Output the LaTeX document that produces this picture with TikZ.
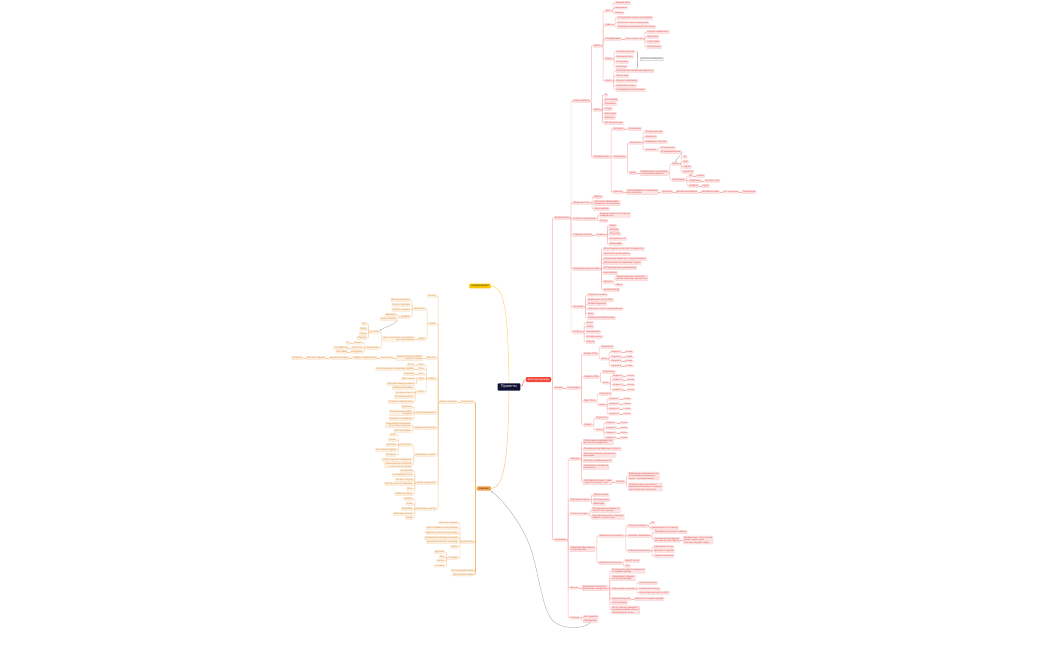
\documentclass[tikz,border=0pt]{standalone}
\usepackage{fontspec}
\setmainfont{Noto Sans}
\usetikzlibrary{positioning,arrows.meta,decorations.pathreplacing}

\definecolor{rfill}{HTML}{FDE4E4}
\definecolor{rdraw}{HTML}{F9C4C4}
\definecolor{rline}{HTML}{F7B3B3}
\definecolor{rtext}{HTML}{E04B45}
\definecolor{lfill}{HTML}{FDF1E3}
\definecolor{ldraw}{HTML}{F8D9B6}
\definecolor{lline}{HTML}{F6CC9C}
\definecolor{ltrunk}{HTML}{F7B774}
\definecolor{ltext}{HTML}{D98A3A}
\definecolor{navy}{HTML}{101433}
\definecolor{mred}{HTML}{F04A3E}
\definecolor{myel}{HTML}{F7C600}
\definecolor{ycurve}{HTML}{F8DA6A}
\definecolor{morange}{HTML}{F5A04A}
\definecolor{ocurve}{HTML}{F8C794}

\newcommand{\leaffont}{\fontsize{2.1}{2.5}\selectfont}
\newcommand{\rootfont}{\fontsize{2.45}{3}\selectfont}

\tikzset{
  leaf/.style={rounded corners=0.6pt, line width=0.15pt, inner xsep=0.8pt, inner ysep=0.5pt, font=\leaffont, align=left},
  rbox/.style={leaf, fill=rfill, draw=rdraw, text=rtext},
  lbox/.style={leaf, fill=lfill, draw=ldraw, text=ltext, align=right},
  rlink/.style={draw=rline, line width=0.45pt, rounded corners=1pt},
  llink/.style={draw=lline, line width=0.45pt, rounded corners=1pt},
  rootbox/.style={rounded corners=0.8pt, font=\rootfont, inner xsep=2pt, inner ysep=1.3pt},
  centerbox/.style={rootbox, fill=navy, text=white, font=\fontsize{3.8}{4.4}\selectfont, inner xsep=3.2pt, inner ysep=1.8pt},
  relation/.style={draw=gray!70, line width=0.35pt, -{Stealth[length=1.8pt,width=1.5pt]}},
  notebox/.style={leaf, fill=white, draw=gray!80, line width=0.25pt, text=black!70},
  bracebar/.style={draw=gray!80, line width=0.3pt, decorate, decoration={brace, amplitude=1.5pt}},
}

% children to the right / left of a parent, at given heights
\newcommand{\rkids}[3][]{%
  \foreach \yy/\lbl [count=\i] in {#3}{%
    \node[rbox, anchor=west, xshift=3pt] (#2-\i) at (#2.east |- 0,\yy) {\lbl};
    \draw[rlink,#1] (#2.east) -- ++(1.4,0) |- (#2-\i.west);
  }}
\newcommand{\lkids}[3][]{%
  \foreach \yy/\lbl [count=\i] in {#3}{%
    \node[lbox, anchor=east, xshift=-3pt] (#2-\i) at (#2.west |- 0,\yy) {\lbl};
    \draw[llink,#1] (#2.west) -- ++(-1.4,0) |- (#2-\i.east);
  }}
% one child on the same line
\newcommand{\rnext}[3][rlink]{\node[rbox, right=3pt of #2] (#2-1) {#3}; \draw[#1] (#2) -- (#2-1);}
\newcommand{\lnext}[3][llink]{\node[lbox, left=3pt of #2] (#2-1) {#3}; \draw[#1] (#2) -- (#2-1);}

\begin{document}
\begin{tikzpicture}[x=1pt, y=-1pt]
  \fill[white] (0,0) rectangle (1050,650);
  \useasboundingbox (0,0) rectangle (1050,650);

  % roots
  \node[centerbox] (proj) at (509,387) {Проекты};
  \node[rootbox, fill=mred, text=white] (mine) at (538.5,379.5) {Мой личный мир};
  \node[rootbox, fill=myel, text=black!85] (self) at (480,286) {Саморазвитие};
  \node[rootbox, fill=morange, text=black!85] (hobby) at (484,488.5) {Занятия};

  \draw[draw=mred!70, line width=0.6pt] (proj.east) .. controls (524,386) and (522,379.5) .. (mine.west);
  \draw[draw=ycurve, line width=0.5pt] (proj.north) .. controls (508,320) and (506,286) .. (self.east);
  \draw[draw=ocurve, line width=0.5pt] (proj.south) .. controls (508,460) and (504,488.5) .. (hobby.east);

  % ---------- right tree ----------
  \rkids[line width=0.6pt]{mine}{218/Направления, 388/Личное, 540/Увлечения}

  \rkids{mine-1}{101/Учеба и работа, 203/Общение и сеть, 219/Записи и публикации, 235/Структура знаний, 269/Интересные темы и идеи, 307/Полезное, 332/Ресурсы}

  \rkids{mine-1-1}{46/Работа, 110/Хобби, 157/Самообучение}
  \rkids{mine-1-1-1}{11/Цели, 25/Задачи, 39/Планирование, 59/Языки, 81/Книги}
  \rkids{mine-1-1-1-1}{3/Текущие цели, 8/Ежедневно, 13/Неделя}
  \rkids{mine-1-1-1-2}{18/Распределить задачи по неделям, 23/Составить список важных дел, 27/Проверить выполнение всех планов}
  \rnext{mine-1-1-1-3}{План на весь год}
  \rkids{mine-1-1-1-3-1}{32/Изучить новый язык, 37/Прочитать, 42/Спорт дома, 47/Путешествия}
  \rkids{mine-1-1-1-4}{52/Английский язык, 57/Немецкий язык, 62/Испанский, 67/Японский}
  \coordinate (bt) at ([xshift=1.5pt]mine-1-1-1-4-1.north east);
  \coordinate (bb) at (bt |- mine-1-1-1-4-4.south);
  \draw[bracebar] (bt) -- (bb);
  \node[notebox, anchor=west, xshift=3.5pt] (langnote) at (bt |- mine-1-1-1-4) {Практика ежедневно};
  \rkids{mine-1-1-1-5}{71/Классическая литература прошлого, 76/Фантастика, 81/Научно-популярные, 86/Психология и мозг, 90/Саморазвитие и мотивация}
  \rkids{mine-1-1-2}{95/Го, 100/Фотография, 104/Рисование, 109/Гитара, 114/Кулинария, 118/Шахматы, 123/Настольные игры}

  \rkids{mine-1-1-3}{129/Интересы, 157/Творчество, 192/Проекты}
  \rnext{mine-1-1-3-1}{Астрономия}
  \rkids{mine-1-1-3-2}{143/Рисование, 173/Курсы}
  \rkids{mine-1-1-3-2-1}{132/Основы рисунка, 137/Живопись, 142/Цифровое искусство, 150/Анимация}
  \rkids{mine-1-1-3-2-1-4}{148/2D анимация, 152/3D моделирование}
  \rnext{mine-1-1-3-2-2}{Онлайн-курсы по дизайну\\и программированию}
  \rkids{mine-1-1-3-2-2-1}{164/Языки, 180/Программы}
  \rkids{mine-1-1-3-2-2-1-1}{157/Go, 162/Rust, 167/Python, 172/JavaScript}
  \rkids{mine-1-1-3-2-2-1-2}{176/Git, 181/Редакторы, 186/Графика}
  \rnext{mine-1-1-3-2-2-1-2-1}{GitHub}
  \rnext{mine-1-1-3-2-2-1-2-2}{VS Code и Vim}
  \rnext{mine-1-1-3-2-2-1-2-3}{Figma}
  \draw[relation] (mine-1-1-3-2-1-4-2.east) .. controls +(4,0) and +(0,-4) .. (mine-1-1-3-2-2-1-1.north);
  \rnext{mine-1-1-3-3}{Сайт-портфолио с описанием\\всех проектов}
  \rnext{mine-1-1-3-3-1}{Прототип}
  \rnext{mine-1-1-3-3-1-1}{Дизайн интерфейса}
  \rnext{mine-1-1-3-3-1-1-1}{Разработка кода}
  \rnext{mine-1-1-3-3-1-1-1-1}{Тест и отладка}
  \rnext{mine-1-1-3-3-1-1-1-1-1}{Публикация}

  \rkids{mine-1-2}{197/Друзья, 203/{Участие в сообществах\\и форумах по интересам}, 209/Мероприятия}
  \rkids{mine-1-3}{215/{Ведение заметок и дневника\\каждый день}, 221/Статьи}
  \rnext{mine-1-4}{Разделы}
  \rkids{mine-1-4-1}{226/Наука, 230/История, 234/Искусство, 239/Технологии и IT, 244/Философия}
  \rkids{mine-1-5}{249/Искусственный интеллект и нейросети, 254/Экология и устойчивость, 259/Психология привычек и продуктивности, 263/Космические исследования и наука, 268/История древних цивилизаций, 273/Архитектура, 282/Музыка, 290/Кинематограф}
  \rkids{mine-1-5-7}{278/{Теория музыки и гармонии\\для начинающих музыкантов}, 285/Джаз}
  \rkids{mine-1-6}{295/Подкасты по теме, 300/Видеокурсы на YouTube, 304/Онлайн-журналы, 309/Полезные статьи и исследования, 314/Вики, 318/Электронные библиотеки}
  \rkids{mine-1-7}{323/Книги, 327/Сайты, 332/Приложения, 337/Онлайн-школы, 342/Прочее}

  \rnext{mine-2}{Распорядок}
  \rkids{mine-2-1}{354/Январь 2024, 377/Февраль 2024, 401/Март 2024, 425/Апрель}
  \rkids{mine-2-1-1}{347/Результаты, 359/Цели}
  \rkids{mine-2-1-2}{372/Результаты, 383/Цели}
  \rkids{mine-2-1-3}{394/Результаты, 405/Цели}
  \rkids{mine-2-1-4}{418/Результаты, 430/Цели}
  \rkids{mine-2-1-1-2}{352/Неделя 1, 357/Неделя 2, 361/Неделя 3, 366/Неделя 4}
  \rkids{mine-2-1-2-2}{376/Неделя 1, 380/Неделя 2, 385/Неделя 3, 390/Неделя 4}
  \rkids{mine-2-1-3-2}{399/Неделя 1, 404/Неделя 2, 409/Неделя 3, 414/Неделя 4}
  \rkids{mine-2-1-4-2}{423/Неделя 1, 428/Неделя 2, 433/Неделя 3, 438/Неделя 4}
  \foreach \b in {1,...,4}{
    \foreach \w in {1,...,4}{
      \rnext{mine-2-1-\b-2-\w}{готово}
    }
  }

  \rkids{mine-3}{459/Карьера, 500/Обучение и курсы, 514/Поездки и отдых, 549/{Здоровый образ жизни\\и самочувствие}, 588/Деньги, 618/Расходы}
  \rkids{mine-3-1}{442/{Поиск новых возможностей\\для роста в профессии}, 449/Повышение квалификации и опыта, 455/{Развитие навыков управления\\командой}, 461/Участие в конференциях IT, 467/{Нетворкинг и полезные\\знакомства}, 482/{Собственный проект: идея\\стартапа и бизнес-план}}
  \rnext{mine-3-1-6}{Стартап}
  \rkids{mine-3-1-6-1}{476/{Мобильное приложение для\\планирования времени и\\задач с напоминаниями}, 487/{Онлайн-сервис для поиска\\единомышленников и команды\\для совместных проектов}}
  \rkids{mine-3-2}{495/Курсы онлайн, 500/Мастер-классы, 504/Вебинары}
  \rkids{mine-3-3}{510/{Планирование поездок по\\России и за границу}, 517/{Путешествие мечты: маршрут\\бюджет и список мест}}
  \rkids{mine-3-4}{536/Физическая активность, 563/Правильное питание}
  \rkids{mine-3-4-1}{526/Утренняя зарядка, 536/Силовые тренировки, 551/Плавание в бассейне}
  \rkids{mine-3-4-1-1}{523/Да, 528/Каждый день по 15 минут}
  \rkids{mine-3-4-1-2}{532/Тренировки три раза в неделю, 540/{Программа тренировок\\на каждый день недели}}
  \rnext{mine-3-4-1-2-2}{Понедельник: ноги и спина\\Среда: грудь и руки\\Пятница: кардио и пресс}
  \rkids{mine-3-4-1-3}{547/Абонемент на год, 551/Два раза в неделю, 556/Техника плавания}
  \rkids{mine-3-4-2}{561/Вода 2 литра, 566/Сон}
  \rnext{mine-3-5}{Управление личными\\финансами и бюджетом}
  \rkids{mine-3-5-1}{571/{Откладывать десять процентов\\от каждого дохода}, 578/{Финансовая подушка\\на полгода вперед}, 589/Инвестиции и вклады, 599/Крупные покупки, 603/Учет расходов, 610/{Вести таблицу доходов и\\расходов каждый месяц и\\анализировать траты}}
  \rkids{mine-3-5-1-3}{583/Акции компаний, 589/Банковские вклады, 593/Накопительные счета и ИИС}
  \rnext{mine-3-5-1-4}{Накопить на новый ноутбук}
  \rkids{mine-3-6}{617/Без кредитов, 621/Сбережения}

  \draw[relation] (mine-3-6-2.south) .. controls (584,629) and (563,630) .. (553,621)
    .. controls (543,610) and (540,582) .. (533,556)
    .. controls (526,530) and (508,505) .. (hobby.south east);

  % ---------- left tree ----------
  \lkids[line width=0.6pt, draw=ltrunk]{hobby}{402/Творчество, 542/Рукоделие, 570.5/Фото и видеосъемка, 574.5/Музыкальные идеи}
  \lnext{hobby-1}{Идеи и проекты}
  \lkids{hobby-1-1}{296/Эскизы, 324/Учеба, 358/Проекты, 379/Работа, 413/Сбор вдохновения, 428/Творческие занятия, 455/Материалы и цены, 483/Лепка и керамика, 509/Вышивка и шитье}

  \lkids{hobby-1-1-2}{309/Живопись, 339/Курсы}
  \lkids{hobby-1-1-2-1}{300/Масляные краски, 305/Гуашь и темпера, 310/Пастель и мелки, 317/Графика}
  \lkids{hobby-1-1-2-1-4}{315/Карандаш, 319/Тушь и линеры}
  \lnext{hobby-1-1-2-2}{Курсы скетчинга и рисования\\для начинающих}
  \lkids{hobby-1-1-2-2-1}{332/Онлайн, 348/Мастерские}
  \lkids{hobby-1-1-2-2-1-1}{324/Лес, 329/Море, 334/Город, 338/Портрет}
  \lkids{hobby-1-1-2-2-1-2}{343/Лекции, 348/Практика, 352/Экскурсии}
  \lnext{hobby-1-1-2-2-1-2-1}{Пн}
  \lnext{hobby-1-1-2-2-1-2-2}{По субботам}
  \lnext{hobby-1-1-2-2-1-2-3}{Выставки}
  \draw[relation] (hobby-1-1-2-1-4-2.south east) .. controls +(-4,5) and +(4,-3) .. (hobby-1-1-2-2-1-1.north east);

  \lnext{hobby-1-1-3}{Персональная выставка\\работ в галерее}
  \lnext{hobby-1-1-3-1}{Концепция}
  \lnext{hobby-1-1-3-1-1}{Подбор и оформление}
  \lnext{hobby-1-1-3-1-1-1}{Аренда площадки}
  \lnext{hobby-1-1-3-1-1-1-1}{Реклама и афиша}
  \lnext{hobby-1-1-3-1-1-1-1-1}{Открытие}

  \lkids{hobby-1-1-4}{365/Идея, 369/План, 374/Цель, 379/Срок, 392/Этапы}
  \lnext{hobby-1-1-4-1}{Эскиз}
  \lnext{hobby-1-1-4-2}{Описание идеи и концепции работы}
  \lnext{hobby-1-1-4-3}{Результат}
  \lkids{hobby-1-1-4-4}{379/Две недели, 384/Контроль каждую неделю}
  \lkids{hobby-1-1-4-5}{388/Выбор материалов, 393/Создание эскиза, 397/Основная работа, 402/Отделка и оформление}

  \lkids{hobby-1-1-5}{407/Журналы, 413/{Посещение выставок\\и музеев}, 419/Прогулки с альбомом}
  \lkids{hobby-1-1-6}{425/{Ежедневные зарисовки\\в скетчбуке по утрам}, 431/Арт-челленджи}
  \lkids{hobby-1-1-7}{445/Где купить, 460/Список нужных материалов, 465/{Сравнение цен на краски\\и холсты в магазинах}}
  \lkids{hobby-1-1-7-1}{435/Озон, 440/Рынок, 445/Магазин, 450/Арт-салоны города, 455/Интернет}
  \lkids{hobby-1-1-8}{471/Гончарство, 475/Полимерная глина, 480/Роспись посуды, 484/Мастер-класс по керамике, 489/Печь, 494/Обжиг и глазурь}
  \lkids{hobby-1-1-9}{499/Мулине, 504/Ткань, 509/Выкройки, 514/Швейная машина, 518/Бисер}

  \lkids{hobby-2}{523/Вязание спицами, 528/Шитье одежды по выкройкам, 533/Макраме и плетение из шнура, 538/Украшения из бисера и камней, 542/Декупаж и роспись по дереву, 547/Свечи, 558/Подарки}
  \lkids{hobby-2-7}{552/Друзьям, 557/Ему, 561/Детям, 566/Соседям}
\end{tikzpicture}
\end{document}
